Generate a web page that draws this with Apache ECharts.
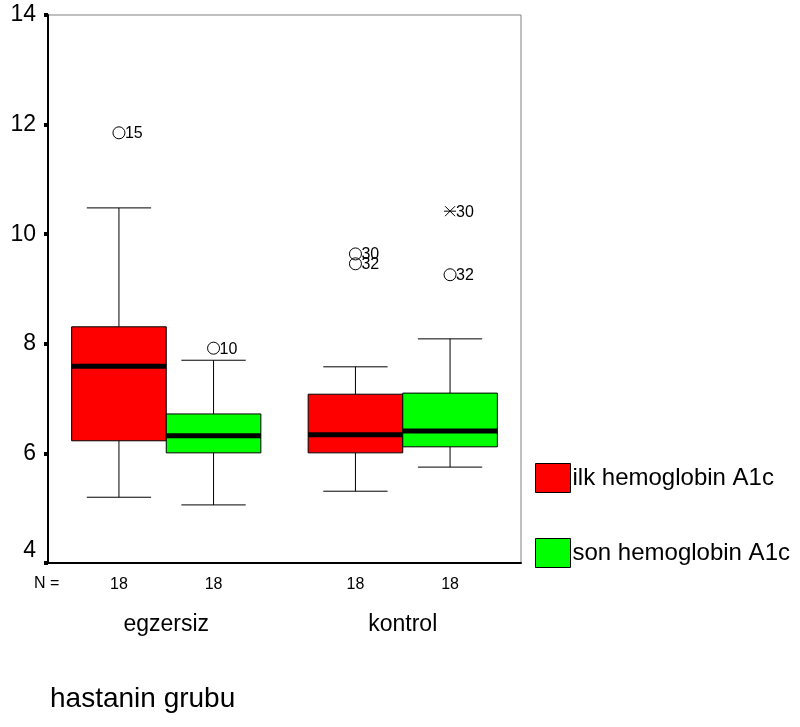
<!DOCTYPE html>
<html><head><meta charset="utf-8">
<script src="https://cdn.jsdelivr.net/npm/echarts@6/dist/echarts.min.js"></script>
<style>html,body{margin:0;padding:0;background:#fff}#c{width:800px;height:727px}</style>
</head><body><div id="c"></div>
<script>
const categories = ['egzersiz', 'kontrol'];
const seriesNames = ['ilk hemoglobin A1c', 'son hemoglobin A1c'];
const seriesColors = ['#ff0000', '#00ff00'];
// [category index, low whisker, Q1, median, Q3, high whisker, N]
const ilkBox = [[0, 5.20, 6.23, 7.59, 8.31, 10.48, 18], [1, 5.31, 6.01, 6.34, 7.08, 7.58, 18]];
const sonBox = [[0, 5.06, 6.01, 6.32, 6.72, 7.70, 18], [1, 5.75, 6.12, 6.41, 7.10, 8.09, 18]];
// [category index, value, case label, extreme(1) or outlier(0)]
const ilkOutliers = [[0, 11.85, '15', 0], [1, 9.64, '30', 0], [1, 9.46, '32', 0]];
const sonOutliers = [[0, 7.92, '10', 0], [1, 10.42, '30', 1], [1, 9.26, '32', 0]];
const yMin = 4, yMax = 14, yStep = 2;
const axisTitle = 'hastanin grubu';
const FONT = "'Liberation Sans', Arial, sans-serif";

function boxRender(side) {
  return function (params, api) {
    const cat = api.value(0);
    const bw = api.size([1, 0])[0];
    const w = bw * 0.4;
    const cx = api.coord([cat, yMin])[0] + side * w / 2;
    const base = api.coord([cat, yMin])[1];
    const y = i => api.coord([cat, api.value(i)])[1];
    const lo = y(1), q1 = y(2), med = y(3), q3 = y(4), hi = y(5);
    const cap = w * 0.34;
    const st = { stroke: '#000', lineWidth: 1 };
    return {
      type: 'group',
      children: [
        { type: 'line', shape: { x1: cx, y1: hi, x2: cx, y2: q3 }, style: st },
        { type: 'line', shape: { x1: cx, y1: q1, x2: cx, y2: lo }, style: st },
        { type: 'line', shape: { x1: cx - cap, y1: hi, x2: cx + cap, y2: hi }, style: st },
        { type: 'line', shape: { x1: cx - cap, y1: lo, x2: cx + cap, y2: lo }, style: st },
        { type: 'rect', shape: { x: cx - w / 2, y: q3, width: w, height: q1 - q3 },
          style: { fill: api.visual('color'), stroke: '#000', lineWidth: 1 } },
        { type: 'line', shape: { x1: cx - w / 2, y1: med, x2: cx + w / 2, y2: med }, style: { stroke: '#000', lineWidth: 5 } },
        { type: 'text', x: cx, y: base + 22, style: { text: String(api.value(6)), fill: '#000', font: '16px ' + FONT, align: 'center', verticalAlign: 'middle' } }
      ]
    };
  };
}

function outlierRender(side) {
  return function (params, api) {
    const cat = api.value(0);
    const bw = api.size([1, 0])[0];
    const w = bw * 0.4;
    const cx = api.coord([cat, yMin])[0] + side * w / 2;
    const cy = api.coord([cat, api.value(1)])[1];
    const extreme = api.value(3) === 1;
    const st = { stroke: '#000', lineWidth: 1, fill: null };
    const marker = extreme
      ? { type: 'group', children: [
          { type: 'line', shape: { x1: cx - 5, y1: cy - 5, x2: cx + 5, y2: cy + 5 }, style: st },
          { type: 'line', shape: { x1: cx - 5, y1: cy + 5, x2: cx + 5, y2: cy - 5 }, style: st },
          { type: 'line', shape: { x1: cx - 6, y1: cy, x2: cx + 6, y2: cy }, style: st }
        ] }
      : { type: 'circle', shape: { cx: cx, cy: cy, r: 6 }, style: st };
    return {
      type: 'group',
      children: [
        marker,
        { type: 'text', x: cx + 6, y: cy + 1, style: { text: api.value(2), fill: '#000', font: '16px ' + FONT, align: 'left', verticalAlign: 'middle' } }
      ]
    };
  };
}

const chart = echarts.init(document.getElementById('c'));
chart.setOption({
  animation: false,
  backgroundColor: '#fff',
  textStyle: { fontFamily: FONT },
  grid: { left: 48, right: 279, top: 15, bottom: 164, show: true, borderColor: '#808080', borderWidth: 1, backgroundColor: 'transparent' },
  legend: {
    orient: 'vertical', left: 535, top: 463, itemWidth: 35, itemHeight: 29, itemGap: 45, padding: 0,
    icon: 'rect',
    textStyle: { fontSize: 24, color: '#000', fontFamily: FONT, padding: [2, 0, 0, -3] },
    data: seriesNames.map((n, i) => ({ name: n, itemStyle: { color: seriesColors[i], borderColor: '#000', borderWidth: 1 } }))
  },
  xAxis: {
    type: 'category', data: categories,
    axisLine: { lineStyle: { color: '#000', width: 2 } },
    axisTick: { alignWithLabel: true, length: 4, lineStyle: { color: '#000', width: 4 } },
    axisLabel: { fontSize: 23, color: '#000', margin: 50, fontFamily: FONT },
    splitLine: { show: false }
  },
  yAxis: {
    type: 'value', min: yMin, max: yMax, interval: yStep,
    axisLine: { show: true, lineStyle: { color: '#000', width: 2 } },
    axisTick: { show: true, length: 4, lineStyle: { color: '#000', width: 4 } },
    axisLabel: {
      fontSize: 23, color: '#000', margin: 12, fontFamily: FONT,
      formatter: v => v === yMin ? '{low|' + v + '}' : String(v),
      rich: { low: { fontSize: 23, padding: [0, 0, 24, 0], fontFamily: FONT } }
    },
    splitLine: { show: false }
  },
  graphic: [
    { type: 'text', left: 34, top: 576, style: { text: 'N =', font: '16px ' + FONT, fill: '#000' } },
    { type: 'text', left: 50, top: 685, style: { text: axisTitle, font: '28px ' + FONT, fill: '#000' } }
  ],
  series: [
    { name: seriesNames[0], type: 'custom', renderItem: boxRender(-1), itemStyle: { color: seriesColors[0] },
      encode: { x: 0, y: [1, 2, 3, 4, 5] }, data: ilkBox, z: 2 },
    { name: seriesNames[1], type: 'custom', renderItem: boxRender(1), itemStyle: { color: seriesColors[1] },
      encode: { x: 0, y: [1, 2, 3, 4, 5] }, data: sonBox, z: 2 },
    { name: 'ilk outliers', type: 'custom', renderItem: outlierRender(-1), encode: { x: 0, y: 1 }, data: ilkOutliers, z: 3 },
    { name: 'son outliers', type: 'custom', renderItem: outlierRender(1), encode: { x: 0, y: 1 }, data: sonOutliers, z: 3 }
  ]
});
</script></body></html>
